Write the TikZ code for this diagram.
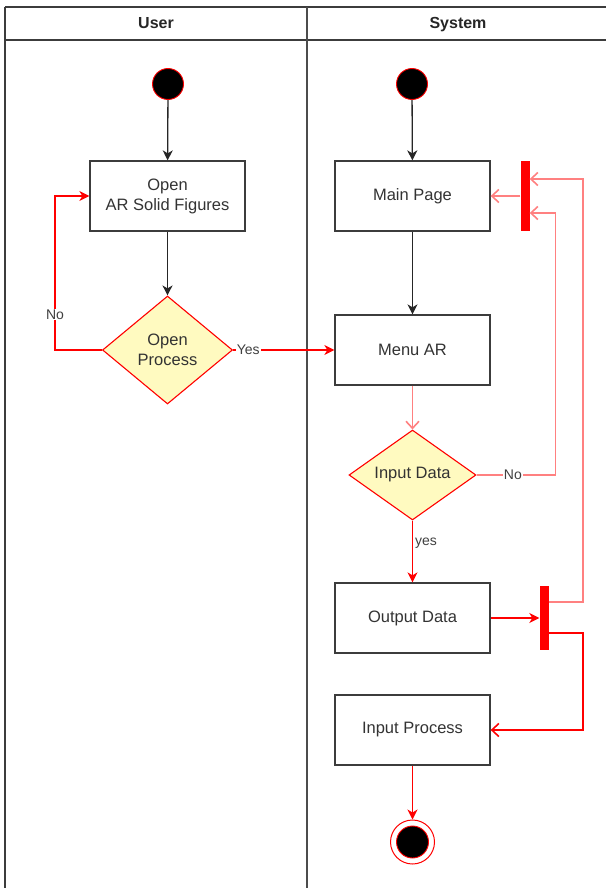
\documentclass[tikz,border=0pt]{standalone}
\usepackage{fontspec}
\setmainfont{Liberation Sans}
\usetikzlibrary{arrows.meta, positioning, calc, shapes.geometric}

\definecolor{paleyellow}{RGB}{255,250,192}
\definecolor{lightred}{RGB}{255,128,128}
\definecolor{boxgray}{RGB}{60,60,60}

\tikzset{
  actbox/.style={draw=boxgray, line width=1.3pt, minimum width=155pt, minimum height=70pt,
    align=center, text=black!80, font=\fontsize{16.5}{20}\selectfont},
  decide/.style={diamond, draw=red, line width=1.1pt, fill=paleyellow, inner sep=0pt,
    align=center, text=black!80, font=\fontsize{16.5}{20}\selectfont},
  startdot/.style={circle, fill=black, draw=red, line width=0.9pt, minimum size=31pt, inner sep=0pt},
  syncbar/.style={rectangle, fill=red, inner sep=0pt, minimum width=9pt},
  lane/.style={font=\bfseries\fontsize{16}{20}\selectfont, text=black!85, anchor=base},
  lbl/.style={fill=white, inner sep=1pt, text=black!75, font=\fontsize{14}{16}\selectfont},
  flowblack/.style={draw=black!85, line width=1.3pt, -{Stealth[length=10pt, width=10pt, inset=3pt]}},
  flowred/.style={draw=red, line width=1.3pt, -{Stealth[length=10pt, width=10pt, inset=3pt]}},
  flowopen/.style={draw=lightred, line width=1.6pt, -{Straight Barb[length=7pt, width=13pt]}}
}

\begin{document}
\begin{tikzpicture}[x=1pt, y=-1pt]
  \useasboundingbox (0,0) rectangle (606,888);

  % swimlanes
  \draw[boxgray, line width=1.2pt] (5,7) -- (606,7);
  \draw[boxgray, line width=1.2pt] (5,40) -- (606,40);
  \draw[boxgray, line width=1.2pt] (5,7) -- (5,888);
  \draw[black!70, line width=2.6pt] (307,7) -- (307,888);
  \node[lane] (laneuser) at (156,29) {User};
  \node[lane] (lanesys) at (458,29) {System};

  % user lane
  \node[startdot] (ustart) at (168,84) {};
  \node[actbox] (uopen) at (167.5,196) {Open\\AR Solid Figures};
  \node[decide, minimum width=130pt, minimum height=108pt, aspect=1.2] (uproc) at (167.5,350) {Open\\Process};

  % system lane
  \node[startdot] (sstart) at (412,84) {};
  \node[actbox] (smain) at (412.5,196) {Main Page};
  \node[actbox] (smenu) at (412.5,350) {Menu AR};
  \node[decide, minimum width=127pt, minimum height=90pt, aspect=1.4] (sinput) at (412.5,475) {Input Data};
  \node[actbox] (soutput) at (412.5,618) {Output Data};
  \node[actbox] (sprocess) at (412.5,730) {Input Process};
  \node[circle, draw=red, line width=1pt, minimum size=44pt, inner sep=0pt] (send) at (412.5,842) {};
  \node[circle, fill=black, draw=red, line width=0.9pt, minimum size=32pt, inner sep=0pt] (sendcore) at (send) {};
  \node[syncbar, minimum height=70pt] (sbar1) at (525,196) {};
  \node[syncbar, minimum height=64pt] (sbar2) at (544,618) {};

  % taps on the bars
  \coordinate (bar1hi) at ($(sbar1.east)+(0,-17)$);
  \coordinate (bar1lo) at ($(sbar1.east)+(0,17)$);
  \coordinate (bar2hi) at ($(sbar2.east)+(0,-16)$);
  \coordinate (bar2lo) at ($(sbar2.east)+(0,15)$);

  % user flow
  \draw[flowblack] (ustart) -- (uopen);
  \draw[flowblack] (uopen) -- (uproc);
  \draw[draw=red, line width=1.3pt, -{Stealth[length=10pt, width=10pt, inset=3pt]}]
    (uproc.west) -- ++(-47,0) -- node[lbl, pos=0.23] {No} ++(0,-154) -- (uopen.west);
  \draw[flowred] (uproc.east) -- node[lbl, pos=0.15] {Yes} (smenu.west);

  % system flow
  \draw[flowblack] (sstart) -- (smain);
  \draw[flowblack] (smain) -- (smenu);
  \draw[flowopen] (smenu) -- (sinput);
  \draw[flowopen] (sinput.east) -- node[lbl, pos=0.46] {No} ++(79,0) |- (bar1lo);
  \draw[flowopen] (sbar1.west) -- (smain.east);
  \draw[flowred] (sinput) -- node[right, pos=0.37, inner sep=2pt, text=black!75, font=\fontsize{14}{16}\selectfont] {yes} (soutput);
  \draw[flowred] (soutput) -- (sbar2);
  \draw[flowopen] (bar2hi) -- ++(34,0) |- (bar1hi);
  \draw[flowopen, draw=red] (bar2lo) -- ++(34,0) |- (sprocess.east);
  \draw[flowred] (sprocess) -- (send);
\end{tikzpicture}
\end{document}
